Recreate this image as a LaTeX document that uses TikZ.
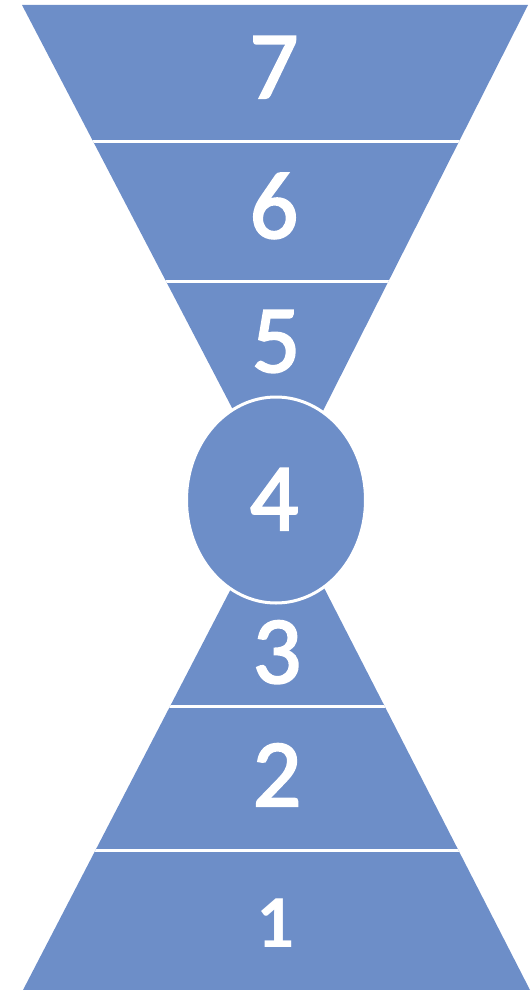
\documentclass[tikz,border=0pt]{standalone}
\usepackage{fontspec}
\setmainfont{Carlito}
\newfontfamily\semibfont[FakeBold=2.2]{Carlito}
\definecolor{segblue}{HTML}{6D8EC8}
\begin{document}
\begin{tikzpicture}[x=1pt,y=-1pt,
  seg/.style={fill=segblue},
  sepline/.style={draw=white,line width=3pt},
  lbl/.style={text=white,font=\semibfont\fontsize{96}{96}\selectfont,anchor=base,inner sep=0pt},
  lblsmall/.style={text=white,font=\fontsize{75}{75}\selectfont\bfseries,anchor=base,inner sep=0pt}]
\useasboundingbox (0,0) rectangle (532,990);
% top funnel
\path[seg] (22,5) -- (528,5) -- (279,498) -- cycle;
\begin{scope}
  \clip (22,5) -- (528,5) -- (279,498) -- cycle;
  \draw[sepline] (0,141) -- (532,141);
  \draw[sepline] (0,281) -- (532,281);
\end{scope}
% bottom funnel
\path[seg] (23,990) -- (530,990) -- (278,498) -- cycle;
\begin{scope}
  \clip (23,990) -- (530,990) -- (278,498) -- cycle;
  \draw[sepline] (0,706) -- (532,706);
  \draw[sepline] (0,850) -- (532,850);
\end{scope}
% centre ellipse
\path[seg,draw=white,line width=3pt] (276,500) ellipse [x radius=89.5, y radius=103];
% labels
\node[lbl] (l7) at (274,98) {7};
\node[lbl] (l6) at (274,238) {6};
\node[lbl] (l5) at (276,372) {5};
\node[lbl] (l4) at (274,530) {4};
\node[lbl] (l3) at (277,683) {3};
\node[lbl] (l2) at (277,806) {2};
\node[lblsmall] (l1) at (276,947) {1};
\end{tikzpicture}
\end{document}
